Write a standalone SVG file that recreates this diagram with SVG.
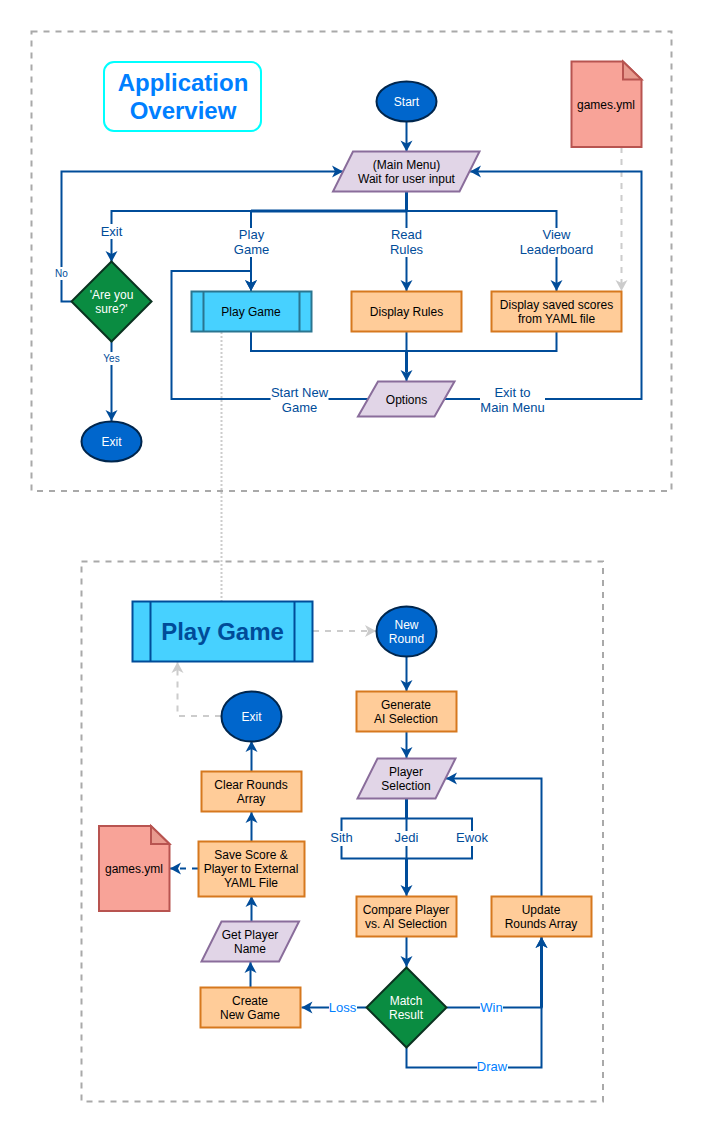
<svg xmlns="http://www.w3.org/2000/svg" width="712" height="1132" viewBox="0 0 712 1132">
<style>
text{font-family:"Liberation Sans",Arial,sans-serif;font-size:12px;text-anchor:middle;fill:#000}
.frame{fill:none;stroke:#a9a9a9;stroke-width:2;stroke-dasharray:6 6}
.c{fill:none;stroke:#004c99;stroke-width:2}
.t{fill:none;stroke:#004c99;stroke-width:3}
.ca{fill:none;stroke:#004c99;stroke-width:2;marker-end:url(#ab)}
.cd{fill:none;stroke:#cccccc;stroke-width:2;stroke-dasharray:6 6;marker-end:url(#ag)}
.cdb{fill:none;stroke:#004c99;stroke-width:2;stroke-dasharray:6 6;marker-end:url(#ab)}
.dot{fill:none;stroke:#cccccc;stroke-width:2;stroke-dasharray:2 2}
.bg{fill:#fff}
text.lb{fill:#004c99;font-size:13px}
text.ll{fill:#007fff;font-size:13px}
text.s{font-size:10px}
.term{fill:#0066cc;stroke:#00264d;stroke-width:2}
text.w{fill:#fff}
.dec{fill:#0a8c41;stroke:#0a3320;stroke-width:2}
.io{fill:#e1d5e7;stroke:#8a6d9b;stroke-width:2}
.proc{fill:#ffcc99;stroke:#d6781e;stroke-width:2}
.sub{fill:#47d1ff;stroke:#2a7590;stroke-width:2}
.sub2{fill:#47d1ff;stroke:#004c99;stroke-width:2}
.file{fill:#f8a398;stroke:#b85450;stroke-width:2}
.fold{fill:#e89a8e;stroke:#b85450;stroke-width:2}
</style>
<defs>
<marker id="ab" markerUnits="userSpaceOnUse" markerWidth="14" markerHeight="14" refX="12" refY="7" orient="auto" overflow="visible"><path d="M12 7L1 1L4 7L1 13Z" fill="#004c99"/></marker>
<marker id="ag" markerUnits="userSpaceOnUse" markerWidth="14" markerHeight="14" refX="12" refY="7" orient="auto" overflow="visible"><path d="M12 7L1 1L4 7L1 13Z" fill="#cccccc"/></marker>
</defs>
<rect class="frame" x="31.5" y="31.5" width="640" height="459.5"/>
<rect class="frame" x="81.5" y="561.5" width="521.5" height="540"/>
<g id="connectors">
<path class="dot" d="M221.5 332V601"/>
<path class="cd" d="M621.5 147V291"/>
<path class="cd" d="M313 631H376"/>
<path class="cd" d="M221 716H177.5V662"/>
<path class="ca" d="M406.5 122V151.5"/>
<path class="ca" d="M406.5 191.5V211H111.5V262"/>
<path class="ca" d="M406.5 191.5V211H251V291"/>
<path class="ca" d="M406.5 191.5V291"/>
<path class="ca" d="M406.5 191.5V211H556.5V291"/>
<path class="t" d="M406.5 191.5V211M251 211H406.5"/>
<path class="ca" d="M71.5 301.5H61.5V171.5H343"/>
<path class="ca" d="M111.5 341V421"/>
<path class="c" d="M251 332V351H406.5"/>
<path class="c" d="M556.5 332V351H406.5"/>
<path class="ca" d="M406.5 332V381"/>
<path class="t" d="M406.5 351V372"/>
<path class="ca" d="M368 399H171.500V271H251V291"/>
<path class="ca" d="M445 399H641.500V171.500H470"/>
<path class="ca" d="M406.500 656V691"/>
<path class="ca" d="M406.500 732V758"/>
<path class="ca" d="M406.500 799V896"/>
<path class="c" d="M406.500 818.500H341.500V858.500H406.500"/>
<path class="c" d="M406.500 818.500H472V858.500H406.500"/>
<path class="t" d="M406.500 799V818.500M406.500 858.500V888"/>
<path class="ca" d="M406.500 937V967"/>
<path class="ca" d="M541.500 896V778.500H446"/>
<path class="ca" d="M447 1007.500H541.500V937"/>
<path class="ca" d="M406.500 1047.500V1067.500H541.500V937"/>
<path class="t" d="M541.500 1007.500V945"/>
<path class="ca" d="M366 1007.500H301.500"/>
<path class="ca" d="M250.500 987V962"/>
<path class="ca" d="M251.500 921V896"/>
<path class="cdb" d="M198 868.500H170"/>
<path class="ca" d="M251.500 841V812"/>
<path class="ca" d="M251.500 771V741"/>
<g id="labels">
<rect class="bg" x="100" y="224" width="23" height="15"/><text class="lb" x="111.500" y="236">Exit</text>
<rect class="bg" x="233" y="228" width="36" height="29"/><text class="lb" x="251.500" y="239">Play</text><text class="lb" x="251.500" y="254">Game</text>
<rect class="bg" x="389" y="228" width="36" height="29"/><text class="lb" x="406.500" y="239">Read</text><text class="lb" x="406.500" y="254">Rules</text>
<rect class="bg" x="519" y="228" width="75" height="29"/><text class="lb" x="556.500" y="239">View</text><text class="lb" x="556.500" y="254">Leaderboard</text>
<rect class="bg" x="54" y="267" width="15" height="13"/><text class="lb s" x="61.500" y="277">No</text>
<rect class="bg" x="102" y="352" width="19" height="13"/><text class="lb s" x="111.500" y="362">Yes</text>
<rect class="bg" x="270.500" y="385" width="58" height="29"/><text class="lb" x="299.500" y="397">Start New</text><text class="lb" x="299.500" y="412">Game</text>
<rect class="bg" x="480" y="385" width="65" height="29"/><text class="lb" x="512.500" y="397">Exit to</text><text class="lb" x="512.500" y="412">Main Menu</text>
<rect class="bg" x="330" y="831" width="23" height="15"/><text class="lb" x="341.500" y="842">Sith</text>
<rect class="bg" x="394" y="831" width="25" height="15"/><text class="lb" x="406.500" y="842">Jedi</text>
<rect class="bg" x="456" y="831" width="32" height="15"/><text class="lb" x="472" y="842">Ewok</text>
<rect class="bg" x="329" y="1000" width="28" height="15"/><text class="ll" x="342.500" y="1012">Loss</text>
<rect class="bg" x="480" y="1000" width="23" height="15"/><text class="ll" x="491.500" y="1012">Win</text>
<rect class="bg" x="477" y="1060" width="31" height="15"/><text class="ll" x="492" y="1071">Draw</text>
</g>
</g>
<g id="title"><rect x="104" y="62" width="157" height="69" rx="10" fill="#fff" stroke="#00ffff" stroke-width="2"/>
<text x="183" y="91" style="font-size:24px;font-weight:bold;fill:#007fff">Application</text><text x="183" y="119" style="font-size:24px;font-weight:bold;fill:#007fff">Overview</text></g>
<g id="start"><ellipse class="term" cx="406.500" cy="101.500" rx="30" ry="20"/><text class="w" x="406.500" y="106">Start</text></g>
<g id="menu"><polygon class="io" points="353,151.500 479.500,151.500 459.500,191.500 333,191.500"/><text x="406.500" y="169">(Main Menu)</text><text x="406.500" y="183">Wait for user input</text></g>
<g id="file1"><path class="file" d="M571.500 61.500H623L641.500 79.500V147H571.500Z"/><path class="fold" d="M623 61.500V79.500H641.500Z"/><text x="606" y="109">games.yml</text></g>
<g id="confirm"><polygon class="dec" points="111.500,261.500 151.500,301.500 111.500,341.500 71.500,301.500"/><text class="w" x="111.500" y="299">'Are you</text><text class="w" x="111.500" y="313">sure?'</text></g>
<g id="exit1"><ellipse class="term" cx="111.500" cy="441.500" rx="30" ry="20"/><text class="w" x="111.500" y="446">Exit</text></g>
<g id="playgame1"><rect class="sub" x="191.500" y="291.500" width="120" height="40"/><path class="sub" d="M203.500 291.500V331.500M299.500 291.500V331.500"/><text x="251" y="316">Play Game</text></g>
<g id="rules"><rect class="proc" x="351.500" y="291.500" width="110" height="40"/><text x="406.500" y="316">Display Rules</text></g>
<g id="scores"><rect class="proc" x="491.500" y="291.500" width="130" height="40"/><text x="556.500" y="309">Display saved scores</text><text x="556.500" y="323">from YAML file</text></g>
<g id="options"><polygon class="io" points="378,381.500 454.500,381.500 434.500,416.500 358,416.500"/><text x="406.500" y="404">Options</text></g>
<g id="playgame2"><rect class="sub2" x="132.500" y="601.500" width="180" height="60"/><path class="sub2" d="M150.500 601.500V661.500M294.500 601.500V661.500"/><text x="222.500" y="640" style="font-size:24px;font-weight:bold;fill:#004c99">Play Game</text></g>
<g id="newround"><ellipse class="term" cx="406.500" cy="631.500" rx="30" ry="25"/><text class="w" x="406.500" y="629">New</text><text class="w" x="406.500" y="643">Round</text></g>
<g id="generate"><rect class="proc" x="356.500" y="691.500" width="100" height="40"/><text x="406" y="709">Generate</text><text x="406" y="723">AI Selection</text></g>
<g id="player"><polygon class="io" points="377.500,758.500 455.500,758.500 435.500,798.500 357.500,798.500"/><text x="406" y="776">Player</text><text x="406" y="790">Selection</text></g>
<g id="compare"><rect class="proc" x="356.500" y="896.500" width="100" height="40"/><text x="406" y="914">Compare Player</text><text x="406" y="928">vs. AI Selection</text></g>
<g id="update"><rect class="proc" x="491.500" y="896.500" width="100" height="40"/><text x="541" y="914">Update</text><text x="541" y="928">Rounds Array</text></g>
<g id="match"><polygon class="dec" points="406.500,967.500 446.500,1007.500 406.500,1047.500 366.500,1007.500"/><text class="w" x="406" y="1005">Match</text><text class="w" x="406" y="1019">Result</text></g>
<g id="create"><rect class="proc" x="200.500" y="987.500" width="100" height="40"/><text x="250" y="1005">Create</text><text x="250" y="1019">New Game</text></g>
<g id="getname"><polygon class="io" points="221.500,921.500 299,921.500 279,961.500 201.500,961.500"/><text x="250" y="939">Get Player</text><text x="250" y="953">Name</text></g>
<g id="save"><rect class="proc" x="198.500" y="841.500" width="106" height="55"/><text x="251" y="859">Save Score &amp;</text><text x="251" y="873">Player to External</text><text x="251" y="887">YAML File</text></g>
<g id="clear"><rect class="proc" x="201.500" y="771.500" width="100" height="40"/><text x="251" y="789">Clear Rounds</text><text x="251" y="803">Array</text></g>
<g id="exit2"><ellipse class="term" cx="251.500" cy="716.500" rx="30" ry="25"/><text class="w" x="251.500" y="721">Exit</text></g>
<g id="file2"><path class="file" d="M99 826H151L169.500 844V911H99Z"/><path class="fold" d="M151 826V844H169.500Z"/><text x="134" y="873">games.yml</text></g>
</svg>
